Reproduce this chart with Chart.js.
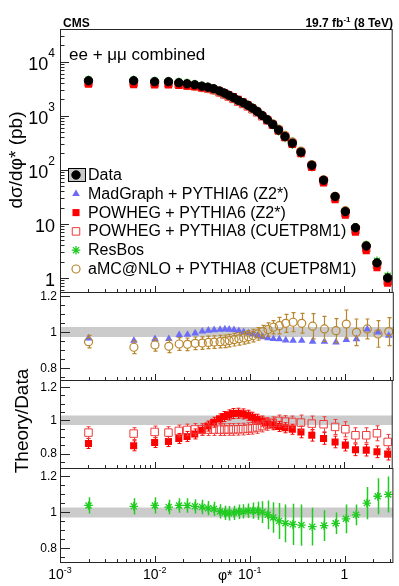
<!DOCTYPE html>
<html lang="es">
<head>
<meta charset="utf-8">
<title>CMS dsigma/dphi*</title>
<script src="https://cdn.jsdelivr.net/npm/chart.js@4.4.1/dist/chart.umd.min.js"></script>
<style>
  html, body { margin: 0; padding: 0; background: #fff; }
  #lienzo { position: relative; width: 399px; height: 586px; }
  #lienzo canvas { position: absolute; left: 0; top: 0; }
</style>
</head>
<body>
<div id="lienzo">
  <canvas id="mainChart" width="399" height="586"></canvas>
  <canvas id="ratio1Chart" width="399" height="586"></canvas>
  <canvas id="ratio2Chart" width="399" height="586"></canvas>
  <canvas id="ratio3Chart" width="399" height="586"></canvas>
</div>
<script>
// Valores leidos a ojo de la figura (CMS, 19.7 fb-1, 8 TeV)
const phiStar = [0.002, 0.006, 0.010, 0.014, 0.018, 0.022, 0.0265, 0.0315, 0.0365, 0.042,
                 0.0485, 0.0545, 0.0605, 0.068, 0.0765, 0.086, 0.0965, 0.108, 0.121, 0.1365,
                 0.155, 0.177, 0.204, 0.2385, 0.285, 0.3515, 0.4575, 0.6095, 0.8065, 1.0355,
                 1.3245, 1.7215, 2.2345, 2.8995];

// dsigma/dphi* medido (pb)
const dataXsec = [4430, 4430, 4250, 4250, 4060, 3890, 3730, 3510, 3360, 3150,
                  2860, 2620, 2390, 2160, 1920, 1740, 1560, 1380, 1200, 1010,
                  840, 690, 543, 411, 311, 212, 121, 64, 32, 16.9,
                  8.5, 3.9, 1.9, 1.0];

// Cocientes teoria/datos
const ratioMadGraph = [0.965, 0.952, 0.961, 0.962, 0.983, 0.985, 0.993, 1.003, 1.008, 1.011,
                       1.013, 1.015, 1.014, 1.012, 1.006, 1.000, 0.994, 0.988, 0.980, 0.972,
                       0.966, 0.962, 0.960, 0.954, 0.952, 0.952, 0.947, 0.946, 0.943, 0.956,
                       0.961, 1.015, 0.998, 0.980];
const errMadGraph = [0.008, 0.008, 0.008, 0.008, 0.008, 0.008, 0.008, 0.008, 0.008, 0.008,
                     0.008, 0.008, 0.008, 0.008, 0.008, 0.008, 0.008, 0.008, 0.008, 0.008,
                     0.008, 0.008, 0.008, 0.008, 0.008, 0.008, 0.008, 0.008, 0.008, 0.008,
                     0.008, 0.008, 0.008, 0.008];

const ratioPowhegP6 = [0.861, 0.847, 0.867, 0.873, 0.891, 0.903, 0.918, 0.940, 0.965, 0.988,
                       1.008, 1.022, 1.032, 1.040, 1.042, 1.038, 1.030, 1.018, 1.006, 0.995,
                       0.984, 0.973, 0.963, 0.955, 0.946, 0.930, 0.910, 0.891, 0.870, 0.851,
                       0.823, 0.821, 0.811, 0.797];
const errPowhegP6 = [0.03, 0.03, 0.03, 0.03, 0.03, 0.03, 0.03, 0.03, 0.03, 0.03,
                     0.03, 0.03, 0.03, 0.03, 0.03, 0.03, 0.03, 0.03, 0.03, 0.03,
                     0.03, 0.03, 0.03, 0.03, 0.03, 0.035, 0.035, 0.035, 0.035, 0.035,
                     0.035, 0.035, 0.035, 0.035];

const ratioPowhegP8 = [0.926, 0.920, 0.930, 0.926, 0.936, 0.942, 0.945, 0.945, 0.944, 0.944,
                       0.944, 0.944, 0.945, 0.945, 0.946, 0.947, 0.950, 0.952, 0.957, 0.965,
                       0.975, 0.985, 0.996, 0.992, 0.990, 0.986, 0.980, 0.976, 0.960, 0.946,
                       0.910, 0.910, 0.922, 0.870];
const errPowhegP8 = [0.035, 0.035, 0.035, 0.035, 0.035, 0.035, 0.035, 0.035, 0.035, 0.035,
                     0.035, 0.035, 0.035, 0.035, 0.035, 0.035, 0.035, 0.035, 0.035, 0.035,
                     0.035, 0.035, 0.035, 0.035, 0.035, 0.045, 0.045, 0.045, 0.045, 0.045,
                     0.045, 0.045, 0.045, 0.045];

const ratioResBos = [1.039, 1.034, 1.039, 1.030, 1.039, 1.039, 1.034, 1.030, 1.024, 1.020,
                     1.006, 0.998, 0.996, 0.998, 1.004, 1.006, 1.010, 1.010, 1.010, 1.002,
                     0.987, 0.972, 0.953, 0.940, 0.934, 0.930, 0.921, 0.927, 0.940, 0.965,
                     0.987, 1.052, 1.090, 1.100];
const errResBos = [0.045, 0.045, 0.045, 0.04, 0.04, 0.04, 0.04, 0.04, 0.04, 0.04,
                   0.04, 0.04, 0.04, 0.04, 0.04, 0.04, 0.04, 0.045, 0.05, 0.06,
                   0.08, 0.085, 0.10, 0.105, 0.115, 0.115, 0.105, 0.085, 0.06, 0.08,
                   0.058, 0.09, 0.10, 0.10];

const ratioAmcnlo = [0.946, 0.915, 0.928, 0.920, 0.933, 0.931, 0.937, 0.938, 0.942, 0.944,
                     0.946, 0.948, 0.952, 0.957, 0.962, 0.967, 0.973, 0.980, 0.989, 1.002,
                     1.013, 1.026, 1.035, 1.048, 1.054, 1.048, 1.032, 1.017, 1.007, 1.044,
                     0.998, 1.017, 0.989, 1.002];
const errAmcnlo = [0.035, 0.035, 0.035, 0.035, 0.035, 0.035, 0.035, 0.035, 0.035, 0.035,
                   0.035, 0.035, 0.035, 0.035, 0.035, 0.035, 0.035, 0.035, 0.035, 0.035,
                   0.037, 0.037, 0.046, 0.05, 0.053, 0.055, 0.07, 0.07, 0.067, 0.078,
                   0.074, 0.055, 0.074, 0.078];

// Banda de incertidumbre de los datos en los cocientes
const dataBandX = [0.001, 3.277];
const dataBandHi = [1.028, 1.028];
const dataBandLo = [0.972, 0.972];

// Ejes
const xTickVals = [0.001, 0.01, 0.1, 1];
const xTickLabels = ['10^-3', '10^-2', '10^-1', '1'];
const yTickVals = [1, 10, 100, 1000, 10000];
const yTickLabels = ['1', '10', '10^2', '10^3', '10^4'];
const ratioTickVals = [0.8, 1, 1.2];
const ratioTickLabels = ['0.8', '1', '1.2'];

const seriesNames = ['Data', 'MadGraph + PYTHIA6 (Z2*)', 'POWHEG + PYTHIA6 (Z2*)',
                     'POWHEG + PYTHIA8 (CUETP8M1)', 'ResBos', 'aMC@NLO + PYTHIA8 (CUETP8M1)'];

const FONT = "'Liberation Sans', Arial, Helvetica, sans-serif";
const X_MIN = 0.001, X_MAX = 3.277;

const estilos = {
    data: { shape: 'circle',   r: 4.2, color: '#000000', fill: '#000000', bw: 1 },
    mg:   { shape: 'triangle', r: 4.4, color: '#6b6bf7', fill: '#6b6bf7', bw: 0 },
    pw6:  { shape: 'rect',     r: 5,   color: '#ff0000', fill: '#ff0000', bw: 0 },
    pw8:  { shape: 'rect',     r: 5.3, color: '#f03a3a', fill: 'rgba(0,0,0,0)', bw: 1 },
    rb:   { shape: 'star',     r: 4.3, color: '#1fcc1f', fill: '#1fcc1f', bw: 1.3 },
    amc:  { shape: 'circle',   r: 4,   color: '#b8862c', fill: 'rgba(0,0,0,0)', bw: 1.2 }
};

function puntos(vals) {
    return phiStar.map((x, i) => ({ x: x, y: vals[i] }));
}

function serie(vals, st, extra) {
    return Object.assign({
        data: puntos(vals),
        showLine: false,
        pointStyle: st.shape,
        pointRadius: st.r,
        pointHoverRadius: st.r,
        pointBackgroundColor: st.fill,
        pointBorderColor: st.color,
        pointBorderWidth: st.bw,
        borderColor: st.color,
        backgroundColor: st.fill
    }, extra || {});
}

function banda() {
    return [
        { data: dataBandX.map((x, i) => ({ x: x, y: dataBandHi[i] })), fill: '+1',
          backgroundColor: '#cbcbcb', borderColor: 'rgba(0,0,0,0)', borderWidth: 0, pointRadius: 0, order: 20 },
        { data: dataBandX.map((x, i) => ({ x: x, y: dataBandLo[i] })), fill: false,
          backgroundColor: '#cbcbcb', borderColor: 'rgba(0,0,0,0)', borderWidth: 0, pointRadius: 0, order: 21 }
    ];
}

// texto con exponente tipo ROOT: '10^-3'
function drawPow(ctx, label, x, y, size, align, rise) {
    const parts = label.split('^');
    const base = parts[0], exp = parts[1] || '';
    const expSize = Math.round(size * 0.66);
    ctx.font = size + 'px ' + FONT;
    const wb = ctx.measureText(base).width;
    ctx.font = expSize + 'px ' + FONT;
    const we = exp ? ctx.measureText(exp).width : 0;
    let x0 = x;
    if (align === 'right') x0 = x - wb - we;
    else if (align === 'center') x0 = x - (wb + we) / 2;
    ctx.textAlign = 'left';
    ctx.textBaseline = 'alphabetic';
    ctx.font = size + 'px ' + FONT;
    ctx.fillText(base, x0, y);
    if (exp) {
        ctx.font = expSize + 'px ' + FONT;
        ctx.fillText(exp, x0 + wb, y - rise);
    }
}

// Barras de error (con hueco para el marcador)
const barrasError = {
    id: 'barrasError',
    beforeDatasetDraw(chart, args) {
        const ds = chart.data.datasets[args.index];
        if (!ds.errores) return;
        const { ctx, chartArea: a, scales: { x, y } } = chart;
        ctx.save();
        ctx.beginPath();
        ctx.rect(a.left, a.top, a.right - a.left, a.bottom - a.top);
        ctx.clip();
        ctx.strokeStyle = ds.pointBorderColor;
        ctx.lineWidth = ds.barWidth || 1;
        const g = ds.barGap || 0;
        const cap = ds.cap || 0;
        ds.data.forEach((p, i) => {
            const e = ds.errores[i];
            const px = Math.round(x.getPixelForValue(p.x)) + 0.5;
            const pc = y.getPixelForValue(p.y);
            const ph = y.getPixelForValue(p.y + e);
            const pl = y.getPixelForValue(p.y - e);
            ctx.beginPath();
            if (ph < pc - g) { ctx.moveTo(px, pc - g); ctx.lineTo(px, ph); }
            if (pl > pc + g) { ctx.moveTo(px, pc + g); ctx.lineTo(px, pl); }
            if (cap) {
                ctx.moveTo(px - cap, ph); ctx.lineTo(px + cap, ph);
                ctx.moveTo(px - cap, pl); ctx.lineTo(px + cap, pl);
            }
            ctx.stroke();
        });
        ctx.restore();
    }
};

// Marco, marcas de los ejes hacia dentro y etiquetas
const marcoRoot = {
    id: 'marcoRoot',
    afterDatasetsDraw(chart, args, o) {
        const { ctx, chartArea: a, scales: { x, y } } = chart;
        ctx.save();
        ctx.strokeStyle = '#262626';
        ctx.fillStyle = '#000';
        ctx.lineWidth = 1;
        ctx.strokeRect(a.left + 0.5, a.top + 0.5, a.right - a.left - 1, a.bottom - a.top);

        // marcas en x (abajo, hacia arriba)
        ctx.beginPath();
        for (let d = -3; d <= 0; d++) {
            for (let k = 1; k <= 9; k++) {
                const v = k * Math.pow(10, d);
                if (v < X_MIN || v > X_MAX) continue;
                const px = Math.round(x.getPixelForValue(v)) + 0.5;
                const len = k === 1 ? 6 : 3;
                ctx.moveTo(px, a.bottom);
                ctx.lineTo(px, a.bottom - len);
            }
        }
        // marcas en y (izquierda, hacia dentro)
        if (o.log) {
            for (let d = -1; d <= 4; d++) {
                for (let k = 1; k <= 9; k++) {
                    const v = k * Math.pow(10, d);
                    if (v < y.min || v > y.max) continue;
                    const py = Math.round(y.getPixelForValue(v)) + 0.5;
                    const len = k === 1 ? 9 : 4.5;
                    ctx.moveTo(a.left, py);
                    ctx.lineTo(a.left + len, py);
                }
            }
        } else {
            for (let v = 0.7; v <= 1.3; v += 0.05) {
                const vv = Math.round(v * 100) / 100;
                if (vv < y.min || vv > y.max) continue;
                const py = Math.round(y.getPixelForValue(vv)) + 0.5;
                const major = Math.abs(vv * 5 - Math.round(vv * 5)) < 1e-6;
                ctx.moveTo(a.left, py);
                ctx.lineTo(a.left + (major ? 10 : 5), py);
            }
        }
        ctx.stroke();

        // etiquetas de y
        if (o.log) {
            yTickVals.forEach((v, i) => {
                const py = y.getPixelForValue(v);
                drawPow(ctx, yTickLabels[i], a.left - 5, py + 8.5, 18, 'right', 13);
            });
        } else {
            ctx.font = '12px ' + FONT;
            ctx.textAlign = 'right';
            ctx.textBaseline = 'middle';
            ratioTickVals.forEach((v, i) => {
                ctx.fillText(ratioTickLabels[i], a.left - 3, y.getPixelForValue(v) + 0.5);
            });
        }

        // etiquetas de x (solo panel inferior)
        if (o.xLabels) {
            xTickVals.forEach((v, i) => {
                drawPow(ctx, xTickLabels[i], x.getPixelForValue(v), 579, 14, 'center', 6);
            });
            ctx.font = '14px ' + FONT;
            ctx.textAlign = 'left';
            ctx.textBaseline = 'alphabetic';
            ctx.fillText('\u03c6*', 218, 580);
        }
        if (o.yTitle) {
            ctx.save();
            ctx.translate(o.yTitle.x, o.yTitle.y);
            ctx.rotate(-Math.PI / 2);
            ctx.font = o.yTitle.size + 'px ' + FONT;
            ctx.textAlign = 'center';
            ctx.textBaseline = 'alphabetic';
            ctx.fillText(o.yTitle.text, 0, 0);
            ctx.restore();
        }
        ctx.restore();
    }
};

// Textos del panel principal y leyenda
const textosCms = {
    id: 'textosCms',
    afterDraw(chart) {
        const ctx = chart.ctx;
        ctx.save();
        ctx.fillStyle = '#000';
        ctx.textBaseline = 'alphabetic';
        ctx.textAlign = 'left';
        ctx.font = 'bold 12px ' + FONT;
        ctx.fillText('CMS', 63, 27);

        // 19.7 fb-1 (8 TeV) alineado a la derecha
        const t1 = '19.7 fb', t2 = '-1', t3 = ' (8 TeV)';
        ctx.font = 'bold 12px ' + FONT;
        const w1 = ctx.measureText(t1).width, w3 = ctx.measureText(t3).width;
        ctx.font = 'bold 8px ' + FONT;
        const w2 = ctx.measureText(t2).width;
        let x0 = 393 - w1 - w2 - w3;
        ctx.font = 'bold 12px ' + FONT;
        ctx.fillText(t1, x0, 27);
        ctx.fillText(t3, x0 + w1 + w2, 27);
        ctx.font = 'bold 8px ' + FONT;
        ctx.fillText(t2, x0 + w1, 22);

        ctx.font = '17px ' + FONT;
        ctx.fillText('ee + \u03bc\u03bc combined', 69, 60);

        // leyenda
        const lx = 76, ly0 = 175, dy = 18.8;
        ctx.fillStyle = '#c8c8c8';
        ctx.fillRect(68, ly0 - 6.5, 17, 13);
        ctx.strokeStyle = '#000';
        ctx.lineWidth = 1;
        ctx.strokeRect(68.5, ly0 - 6.5, 17, 13);
        const marcas = [estilos.data, estilos.mg, estilos.pw6, estilos.pw8, estilos.rb, estilos.amc];
        marcas.forEach((st, i) => {
            const yy = ly0 + i * dy;
            ctx.fillStyle = st.fill;
            ctx.strokeStyle = st.color;
            ctx.lineWidth = st.bw;
            Chart.helpers.drawPoint(ctx, { pointStyle: st.shape, radius: st.r, rotation: 0, borderWidth: st.bw }, lx, yy);
            ctx.fillStyle = '#000';
            ctx.font = '16px ' + FONT;
            ctx.textBaseline = 'middle';
            ctx.fillText(seriesNames[i], 88, yy + 0.5);
        });
        ctx.restore();
    }
};

function opciones(pad, yScale, frame) {
    return {
        responsive: false,
        animation: false,
        devicePixelRatio: 1,
        events: [],
        layout: { padding: pad },
        scales: {
            x: { type: 'logarithmic', min: X_MIN, max: X_MAX, display: false },
            y: Object.assign({ display: false }, yScale)
        },
        plugins: {
            legend: { display: false },
            tooltip: { enabled: false },
            marcoRoot: frame
        }
    };
}

document.addEventListener('DOMContentLoaded', function () {
    // Panel principal: seccion eficaz
    new Chart(document.getElementById('mainChart'), {
        type: 'line',
        data: {
            datasets: [
                serie(dataXsec, estilos.data, { order: 0 }),
                serie(dataXsec.map((v, i) => v * ratioAmcnlo[i]), estilos.amc, { order: 5 }),
                serie(dataXsec.map((v, i) => v * ratioMadGraph[i]), estilos.mg, { order: 4 }),
                serie(dataXsec.map((v, i) => v * ratioResBos[i]), estilos.rb, { order: 3 }),
                serie(dataXsec.map((v, i) => v * ratioPowhegP8[i]), estilos.pw8, { order: 2 }),
                serie(dataXsec.map((v, i) => v * ratioPowhegP6[i]), estilos.pw6, { order: 1 })
            ]
        },
        options: opciones({ left: 60, right: 5, top: 29, bottom: 586 - 292 },
            { type: 'logarithmic', min: 0.55, max: 40000 },
            { log: true, yTitle: { text: 'd\u03c3/d\u03c6* (pb)', x: 22, y: 160, size: 19 } }),
        plugins: [marcoRoot, textosCms]
    });

    // Cociente: MadGraph y aMC@NLO
    new Chart(document.getElementById('ratio1Chart'), {
        type: 'line',
        data: {
            datasets: banda().concat([
                serie(ratioMadGraph, estilos.mg, { order: 2, errores: errMadGraph, barGap: 3 }),
                serie(ratioAmcnlo, estilos.amc, { order: 1, errores: errAmcnlo, barGap: 4, cap: 2, barWidth: 1.2 })
            ])
        },
        options: opciones({ left: 60, right: 5, top: 292, bottom: 586 - 380 },
            { type: 'linear', min: 0.733, max: 1.222 }, { log: false }),
        plugins: [barrasError, marcoRoot]
    });

    // Cociente: POWHEG
    new Chart(document.getElementById('ratio2Chart'), {
        type: 'line',
        data: {
            datasets: banda().concat([
                serie(ratioPowhegP6, estilos.pw6, { order: 2, errores: errPowhegP6, barGap: 3, cap: 2 }),
                serie(ratioPowhegP8, estilos.pw8, { order: 1, errores: errPowhegP8, barGap: 4, cap: 2 })
            ])
        },
        options: opciones({ left: 60, right: 5, top: 380, bottom: 586 - 468 },
            { type: 'linear', min: 0.714, max: 1.241 },
            { log: false, yTitle: { text: 'Theory/Data', x: 28, y: 421, size: 19 } }),
        plugins: [barrasError, marcoRoot]
    });

    // Cociente: ResBos
    new Chart(document.getElementById('ratio3Chart'), {
        type: 'line',
        data: {
            datasets: banda().concat([
                serie(ratioResBos, estilos.rb, { order: 1, errores: errResBos, barGap: 0, barWidth: 1.5 })
            ])
        },
        options: opciones({ left: 60, right: 5, top: 468, bottom: 586 - 562 },
            { type: 'linear', min: 0.725, max: 1.247 }, { log: false, xLabels: true }),
        plugins: [barrasError, marcoRoot]
    });
});
</script>
</body>
</html>
